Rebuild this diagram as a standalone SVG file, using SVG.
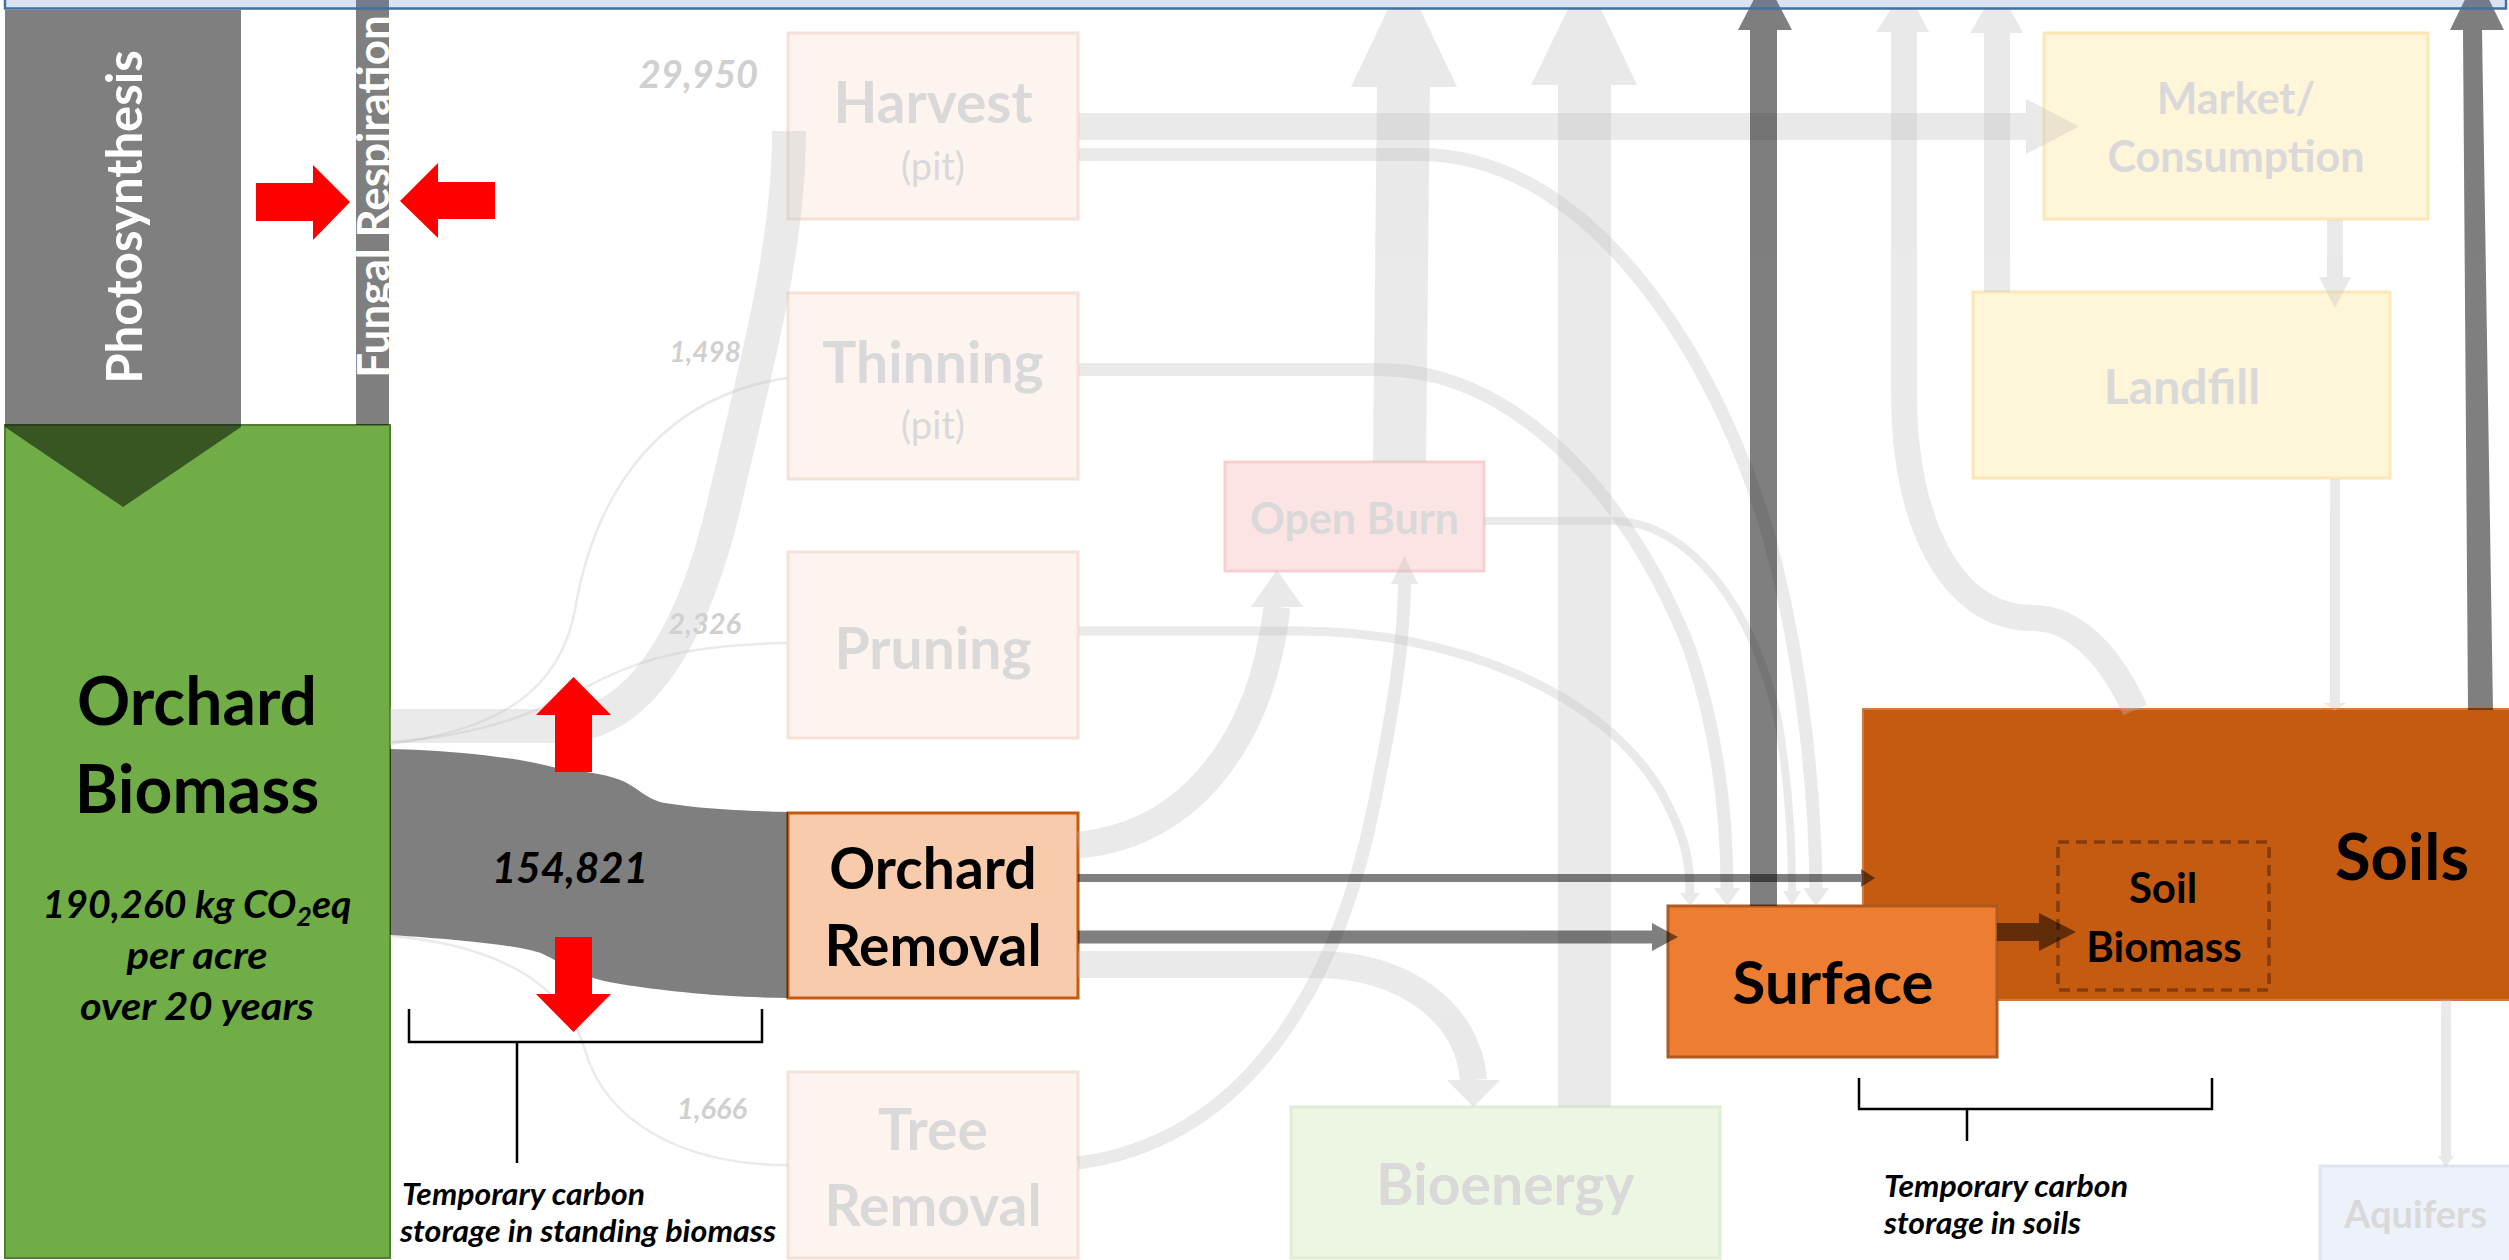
<svg xmlns="http://www.w3.org/2000/svg" width="2509" height="1260" viewBox="0 0 2509 1260">
<style>
text{font-family:Lato,"Open Sans","Liberation Sans",sans-serif;font-weight:700}
.c{text-anchor:middle}
.fd{fill:#d9d9d9}
.bk{fill:#000}
.it{font-style:italic}
.num{font-style:italic;fill:#d0d0d0;text-anchor:end}
.pk{fill:#fdf4f0;stroke:#f5e1d7;stroke-width:3}
.yl{fill:#fff5d9;stroke:#fbe8b6;stroke-width:3}
.lt{opacity:.33}
.lt path{fill:none;stroke:#bfbfbf}
.lt polygon,.lt rect{fill:#bfbfbf}
.dk{opacity:.5}
.dk path.s{fill:none;stroke:#000}
.dk polygon,.dk rect,.dk path.f{fill:#000}
.red{fill:#ff0000}
.br{fill:none;stroke:#000;stroke-width:2.5}
</style>

<!-- NODES -->
<g id="orchard-biomass">
<rect x="5" y="425" width="385" height="833" fill="#70ad47" stroke="#507e32" stroke-width="2"/>
<text class="c bk" x="197" y="725" font-size="66">Orchard</text>
<text class="c bk" x="197" y="813" font-size="66">Biomass</text>
<text class="c bk it" x="197" y="918" font-size="38" textLength="309" lengthAdjust="spacingAndGlyphs">190,260 kg CO<tspan font-size="26" dy="8">2</tspan><tspan dy="-8">eq</tspan></text>
<text class="c bk it" x="197" y="969" font-size="38" textLength="141" lengthAdjust="spacingAndGlyphs">per acre</text>
<text class="c bk it" x="197" y="1020" font-size="38" textLength="234" lengthAdjust="spacingAndGlyphs">over 20 years</text>
</g>

<g id="photosynthesis">
<polygon points="5,10 241,10 241,427 123,507 5,427" fill="#000" opacity=".5"/>
<text transform="translate(142,217) rotate(-90)" class="c" font-size="49" fill="#fff">Photosynthesis</text>
</g>

<g id="fungal-respiration">
<rect x="356" y="-30" width="33" height="455" fill="#000" opacity=".5"/>
<text transform="translate(389,196.5) rotate(-90)" class="c" font-size="44" fill="#fff">Fungal Respiration</text>
</g>

<g id="harvest">
<rect class="pk" x="788" y="33" width="290" height="186"/>
<text class="c fd" x="933" y="123" font-size="57">Harvest</text>
<text class="c fd" x="933" y="180" font-size="38" style="font-weight:400">(pit)</text>
</g>
<g id="thinning">
<rect class="pk" x="788" y="293" width="290" height="186"/>
<text class="c fd" x="933" y="383" font-size="57">Thinning</text>
<text class="c fd" x="933" y="439" font-size="38" style="font-weight:400">(pit)</text>
</g>
<g id="pruning">
<rect class="pk" x="788" y="552" width="290" height="186"/>
<text class="c fd" x="933" y="669" font-size="57">Pruning</text>
</g>
<g id="orchard-removal">
<rect x="788" y="813" width="290" height="185" fill="#f8cbad" stroke="#c55a11" stroke-width="3"/>
<text class="c bk" x="933" y="889" font-size="57">Orchard</text>
<text class="c bk" x="933" y="966" font-size="57">Removal</text>
</g>
<g id="tree-removal">
<rect class="pk" x="788" y="1072" width="290" height="186"/>
<text class="c fd" x="933" y="1150" font-size="57">Tree</text>
<text class="c fd" x="933" y="1226" font-size="57">Removal</text>
</g>
<g id="open-burn">
<rect x="1225" y="462" width="259" height="109" fill="#fde4e4" stroke="#f8cfcf" stroke-width="3"/>
<text class="c fd" x="1354.5" y="534" font-size="43">Open Burn</text>
</g>
<g id="bioenergy">
<rect x="1291" y="1107" width="429" height="151" fill="#edf5e3" stroke="#e0eed3" stroke-width="3"/>
<text class="c fd" x="1505.5" y="1205" font-size="57">Bioenergy</text>
</g>
<g id="market">
<rect class="yl" x="2044" y="33" width="384" height="186"/>
<text class="c fd" x="2236" y="114" font-size="43">Market/</text>
<text class="c fd" x="2236" y="172" font-size="43">Consumption</text>
</g>
<g id="landfill">
<rect class="yl" x="1973" y="292" width="417" height="186"/>
<text class="c fd" x="2182" y="404" font-size="48">Landfill</text>
</g>
<g id="soils">
<rect x="1863" y="709" width="660" height="291" fill="#c55a11" stroke="#cf7a45" stroke-width="2"/>
<text class="c bk" x="2402" y="880" font-size="65">Soils</text>
</g>
<g id="soil-biomass">
<rect x="2058" y="842" width="211" height="148" fill="none" stroke="#843c0c" stroke-width="3.5" stroke-dasharray="11,7"/>
<text class="c bk" x="2163" y="903" font-size="42">Soil</text>
<text class="c bk" x="2164" y="962" font-size="42">Biomass</text>
</g>
<g id="surface">
<rect x="1668" y="906" width="329" height="151" fill="#ed7d31" stroke="#ae5a21" stroke-width="3"/>
<text class="c bk" x="1833" y="1004" font-size="60">Surface</text>
</g>
<g id="aquifers">
<rect x="2320" y="1166" width="210" height="110" fill="#edf1f9" stroke="#dde4f2" stroke-width="3"/>
<text class="fd" x="2344" y="1228" font-size="38">Aquifers</text>
</g>

<!-- CONNECTORS -->
<g id="connectors">
<g class="lt"><path stroke-width="34" d="M390,726 L560,726 C650,726 700,610 725,500 C755,370 789,250 789,131"/></g>
<g class="lt"><path stroke-width="2.5" d="M390,744 C500,730 560,690 575,610 C590,520 640,400 787,378"/></g>
<g class="lt"><path stroke-width="2.5" d="M390,742 C500,735 560,700 600,680 C650,655 700,645 787,643"/></g>
<g class="lt"><path stroke-width="2.5" d="M390,936 C500,945 565,985 585,1050 C605,1120 680,1165 788,1165"/></g>
<g class="lt"><rect x="1079" y="113" width="947" height="27"/><polygon points="2026,99 2079,126.5 2026,154"/></g>
<g class="lt"><path stroke-width="13" d="M1079,154.5 H1420 C1600,155 1730,380 1775,560 C1805,680 1815,800 1816,888"/><polygon points="1803,888 1829,888 1816,906"/></g>
<g class="lt"><path stroke-width="13" d="M1079,369.5 H1380 C1530,370 1640,520 1690,650 C1720,740 1727,820 1727,888"/><polygon points="1714,888 1740,888 1727,906"/></g>
<g class="lt"><path stroke-width="9" d="M1079,631 H1300 C1450,631 1600,690 1660,790 C1685,835 1690,860 1690,893"/><polygon points="1680,893 1700,893 1690,906"/></g>
<g class="lt"><path stroke-width="8" d="M1484,521 H1613 C1690,521 1755,610 1778,720 C1790,790 1792,850 1792,891"/><polygon points="1783,891 1801,891 1792,906"/></g>
<g class="lt"><path stroke-width="27" d="M1078,845 C1190,835 1262,740 1277,607"/><polygon points="1251,607 1303,607 1277,570"/></g>
<g class="lt"><path stroke-width="13" d="M1078,1163 C1250,1140 1340,980 1375,800 C1395,700 1404,640 1404.5,584"/><polygon points="1391,584 1418,584 1404.5,556"/></g>
<g class="lt"><path stroke-width="27" d="M1078,964.5 H1318 C1400,964.5 1468,1010 1473.5,1080"/><polygon points="1447,1080 1500,1080 1473.5,1107"/></g>
<g class="lt"><rect x="1558" y="85" width="53" height="1022"/><polygon points="1531,85 1637,85 1601,9 1568,9"/></g>
<g class="lt"><polygon points="1373,462 1426,462 1430,87 1377,87"/><polygon points="1351,87 1457,87 1420,9 1388,9"/></g>
<g class="lt"><path stroke-width="26" d="M2135,710 C2115,665 2080,618 2033,618 C1950,618 1904,520 1904,395 V32"/><polygon points="1876,32 1929,32 1917,9 1891,9"/></g>
<g class="lt"><rect x="1984" y="33" width="26" height="259"/><polygon points="1970,33 2023,33 2010,9 1984,9"/></g>
<g class="lt"><rect x="2327" y="220" width="16" height="57"/><polygon points="2319,277 2351,277 2335,308"/></g>
<g class="lt"><rect x="2330" y="479" width="10" height="224"/><polygon points="2324,703 2346,703 2335,711"/></g>
<g class="lt"><rect x="2441" y="1000" width="10" height="156"/><polygon points="2438,1156 2454,1156 2446,1167"/></g>

<g class="dk"><path class="f" d="M390,749 C470,751 530,760 560,769 C590,772 610,775 625,782 C640,790 645,797 660,802 C690,808 740,811 788,812 L788,998 C720,997 680,992 647,988 C625,985 605,982 590,977 C570,970 560,962 545,955 C530,947 470,940 390,935 Z"/></g>
<g class="dk"><rect x="1078" y="874" width="783" height="8"/><polygon points="1861,869 1875,878 1861,887"/></g>
<g class="dk"><rect x="1078" y="930.5" width="574" height="13"/><polygon points="1652,923 1678,937 1652,951"/></g>
<g class="dk"><rect x="1750" y="30" width="27" height="876"/><polygon points="1738,30 1792,30 1765,-22"/></g>
<g class="dk"><polygon points="2463,30 2482,30 2493,710 2468,710"/><polygon points="2450,30 2504,30 2477,-25"/></g>
<g class="dk"><rect x="1997" y="923" width="42" height="18"/><polygon points="2039,913 2076,932 2039,951"/></g>
</g>

<!-- top bar -->
<rect x="5" y="-30" width="2501" height="38.5" fill="#4472c4" fill-opacity=".2" stroke="#41719c" stroke-width="2.5"/>

<!-- red arrows -->
<g id="red-arrows">
<polygon class="red" points="256,183 313,183 313,165 350,202 313,240 313,221 256,221"/>
<polygon class="red" points="495,182 438,182 438,163 400,201 438,238 438,219 495,219"/>
<polygon class="red" points="555,772 555,715 536,715 573.5,677 611,715 592,715 592,772"/>
<polygon class="red" points="555,937 592,937 592,994 611,994 573.5,1032 536,994 555,994"/>
</g>

<!-- labels -->
<g id="labels">
<text class="c bk it" x="570" y="883" font-size="42">154,821</text>
<text class="num" x="758" y="88" font-size="38">29,950</text>
<text class="num" x="741" y="362" font-size="28">1,498</text>
<text class="num" x="741" y="634" font-size="29">2,326</text>
<text class="num" x="747" y="1119" font-size="29">1,666</text>
<path class="br" d="M409,1009 V1042 H762 V1009 M517,1042 V1163"/>
<text class="bk it" x="402" y="1205" font-size="31" textLength="243" lengthAdjust="spacingAndGlyphs">Temporary carbon</text>
<text class="bk it" x="400" y="1242" font-size="31" textLength="376" lengthAdjust="spacingAndGlyphs">storage in standing biomass</text>
<path class="br" d="M1859,1078 V1109 H2212 V1078 M1967,1109 V1141"/>
<text class="bk it" x="1884" y="1197" font-size="30" textLength="244" lengthAdjust="spacingAndGlyphs">Temporary carbon</text>
<text class="bk it" x="1884" y="1234" font-size="30" textLength="197" lengthAdjust="spacingAndGlyphs">storage in soils</text>
</g>
</svg>
